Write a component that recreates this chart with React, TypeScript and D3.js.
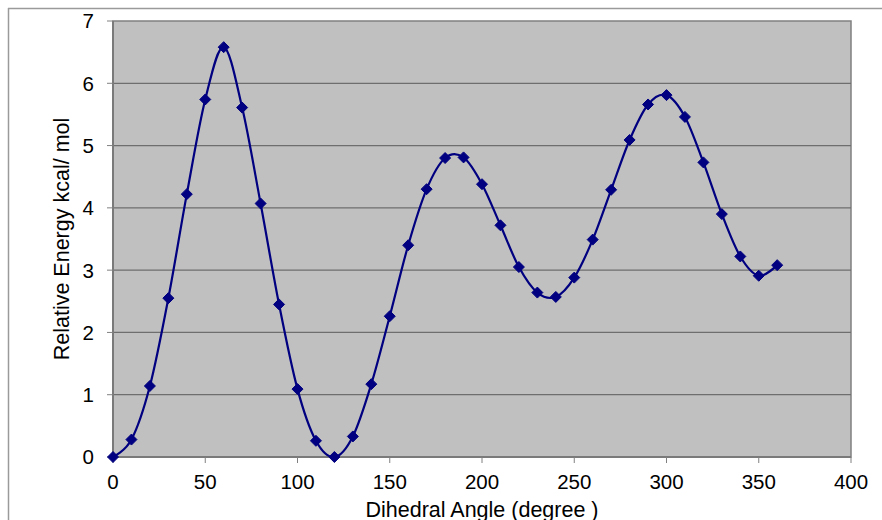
import React from "react";
import * as d3 from "d3";

const angles = [0, 10, 20, 30, 40, 50, 60, 70, 80, 90, 100, 110, 120, 130, 140, 150, 160, 170, 180, 190, 200, 210, 220, 230, 240, 250, 260, 270, 280, 290, 300, 310, 320, 330, 340, 350, 360];
const energies = [0, 0.28, 1.14, 2.55, 4.22, 5.74, 6.58, 5.61, 4.07, 2.45, 1.09, 0.26, 0, 0.33, 1.17, 2.26, 3.4, 4.3, 4.8, 4.81, 4.38, 3.72, 3.05, 2.64, 2.57, 2.88, 3.49, 4.29, 5.09, 5.66, 5.81, 5.46, 4.73, 3.9, 3.22, 2.91, 3.08];
const xTicks = [0, 50, 100, 150, 200, 250, 300, 350, 400];
const yTicks = [0, 1, 2, 3, 4, 5, 6, 7];
const xTitle = "Dihedral Angle (degree )";
const yTitle = "Relative Energy kcal/ mol";

export default function App() {
  const W = 882, H = 520;
  const left = 113, right = 851, top = 21, bottom = 457;
  const x = d3.scaleLinear().domain([0, 400]).range([left, right]);
  const y = d3.scaleLinear().domain([0, 7]).range([bottom, top]);
  const pts: [number, number][] = angles.map((a, i) => [x(a), y(energies[i])]);
  const line = d3.line().curve(d3.curveCatmullRom.alpha(0))(pts) || "";
  const font = "'Liberation Sans', Arial, sans-serif";
  const r = 5.5;
  return (
    <svg width={W} height={H} style={{ position: "absolute", left: 0, top: 0 }} xmlns="http://www.w3.org/2000/svg">
      <rect x={0} y={0} width={W} height={H} fill="#ffffff" />
      {/* outer chart border */}
      <line x1={8} y1={8.5} x2={W} y2={8.5} stroke="#9a9a9a" strokeWidth={1.5} />
      <line x1={8.5} y1={8} x2={8.5} y2={H} stroke="#9a9a9a" strokeWidth={1.5} />
      {/* plot area */}
      <rect x={left} y={top} width={right - left} height={bottom - top} fill="#c0c0c0" stroke="#808080" strokeWidth={1.5} />
      {yTicks.filter(t => t > 0 && t < 7).map(t => (
        <line key={"g" + t} x1={left} x2={right} y1={y(t)} y2={y(t)} stroke="#6e6e6e" strokeWidth={1.2} />
      ))}
      {/* axes */}
      <line x1={left} x2={left} y1={top} y2={bottom} stroke="#7a7a7a" strokeWidth={2} />
      <line x1={left} x2={right} y1={bottom} y2={bottom} stroke="#7a7a7a" strokeWidth={2} />
      {yTicks.map(t => (
        <g key={"y" + t}>
          <line x1={left - 6} x2={left} y1={y(t)} y2={y(t)} stroke="#808080" strokeWidth={1} />
          <text x={94} y={y(t)} dy="0.36em" textAnchor="end" fontFamily={font} fontSize={20.5} fill="#000">{t}</text>
        </g>
      ))}
      {xTicks.map(t => (
        <g key={"x" + t}>
          <line x1={x(t)} x2={x(t)} y1={bottom} y2={bottom + 6} stroke="#808080" strokeWidth={1} />
          <text x={x(t)} y={489} textAnchor="middle" fontFamily={font} fontSize={20.5} fill="#000">{t}</text>
        </g>
      ))}
      <path d={line} fill="none" stroke="#000080" strokeWidth={2.2} />
      {pts.map(([px, py], i) => (
        <path key={"m" + i} d={`M${px},${py - r}L${px + r},${py}L${px},${py + r}L${px - r},${py}Z`} fill="#000080" stroke="#000080" strokeWidth={1} />
      ))}
      <text x={(left + right) / 2} y={516.5} textAnchor="middle" fontFamily={font} fontSize={21.5} fill="#000">{xTitle}</text>
      <text transform={`translate(68.5,${(top + bottom) / 2}) rotate(-90)`} textAnchor="middle" fontFamily={font} fontSize={21.5} fill="#000">{yTitle}</text>
    </svg>
  );
}
